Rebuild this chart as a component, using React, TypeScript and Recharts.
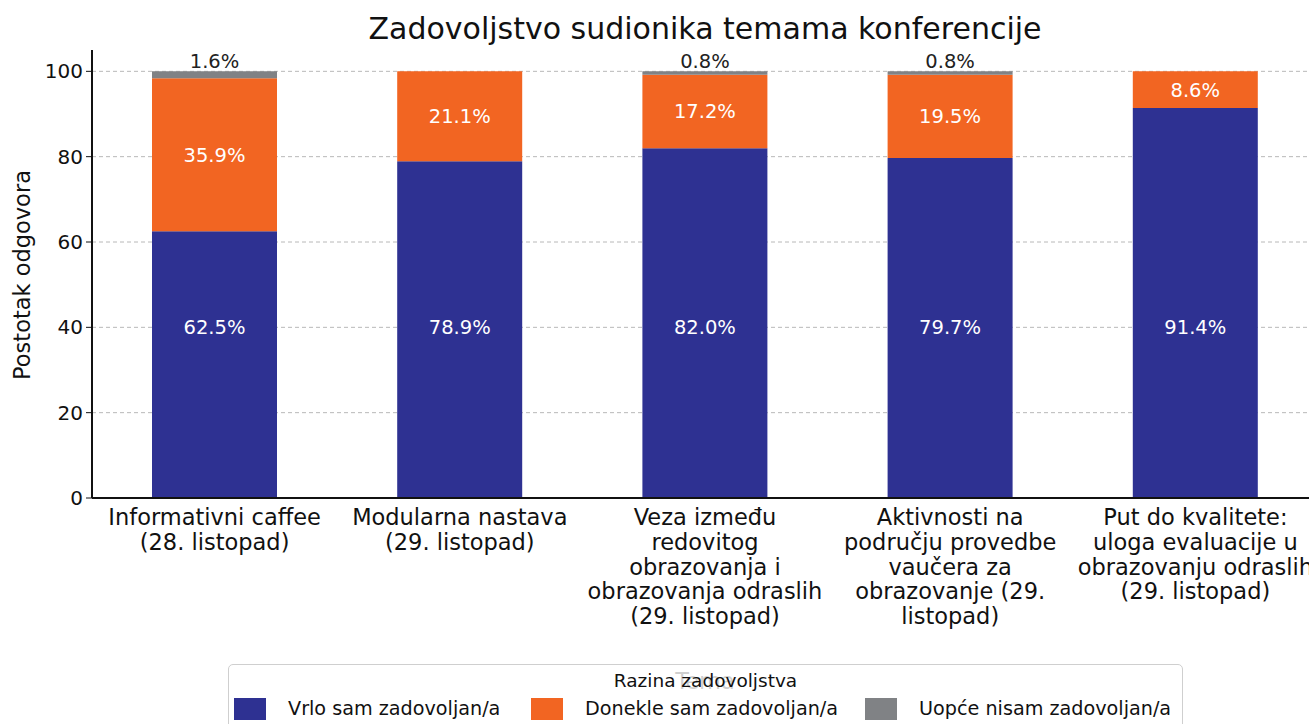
import { BarChart, Bar, XAxis, YAxis, CartesianGrid, LabelList } from "recharts";

const topics = [
  "Informativni caffee\n(28. listopad)",
  "Modularna nastava\n(29. listopad)",
  "Veza između\nredovitog\nobrazovanja i\nobrazovanja odraslih\n(29. listopad)",
  "Aktivnosti na\npodručju provedbe\nvaučera za\nobrazovanje (29.\nlistopad)",
  "Put do kvalitete:\nuloga evaluacije u\nobrazovanju odraslih\n(29. listopad)",
];
const vrlo = [62.5, 78.9, 82.0, 79.7, 91.4];
const donekle = [35.9, 21.1, 17.2, 19.5, 8.6];
const uopce = [1.6, 0, 0.8, 0.8, 0];
const yTicks = [0, 20, 40, 60, 80, 100];

const series = [
  { key: "vrlo", name: "Vrlo sam zadovoljan/a", color: "#2e3192", left: 6 },
  { key: "donekle", name: "Donekle sam zadovoljan/a", color: "#f26522", left: 303 },
  { key: "uopce", name: "Uopće nisam zadovoljan/a", color: "#808285", left: 637 },
];

const data = topics.map((t, i) => ({
  topic: t,
  vrlo: vrlo[i],
  donekle: donekle[i],
  uopce: uopce[i],
}));

const FONT = "'DejaVu Sans', sans-serif";

const TopicTick = (props: any) => {
  const { x, y, payload } = props;
  const lines = String(payload.value).split("\n");
  return (
    <text x={x} y={y + 25} textAnchor="middle" fontSize={22.5} fill="#111" fontFamily={FONT}>
      {lines.map((l, i) => (
        <tspan key={i} x={x} dy={i === 0 ? 0 : 24.75}>
          {l}
        </tspan>
      ))}
    </text>
  );
};

// blue labels sit at the 40 level, like the original
const blueLabel = (props: any) => {
  const { x, y, width, height, value } = props;
  if (!value) return null;
  const bottom = y + height;
  const yy = bottom - (40 * height) / value;
  return (
    <text x={x + width / 2} y={yy} dy="0.36em" textAnchor="middle" fill="#fff" fontSize={19.5} fontFamily={FONT}>
      {value.toFixed(1)}%
    </text>
  );
};

const midLabel = (props: any) => {
  const { x, y, width, height, value } = props;
  if (!value) return null;
  return (
    <text x={x + width / 2} y={y + height / 2} dy="0.36em" textAnchor="middle" fill="#fff" fontSize={19.5} fontFamily={FONT}>
      {value.toFixed(1)}%
    </text>
  );
};

const topLabel = (props: any) => {
  const { x, y, width, value } = props;
  if (!value) return null;
  return (
    <text x={x + width / 2} y={y - 3} textAnchor="middle" fill="#222" fontSize={19.5} fontFamily={FONT}>
      {value.toFixed(1)}%
    </text>
  );
};

export default function App() {
  return (
    <div style={{ position: "absolute", left: 0, top: 0, width: 1309, height: 724, overflow: "hidden", background: "#fff" }}>
      <BarChart
        width={1335}
        height={760}
        data={data}
        margin={{ top: 50, right: 17, bottom: 232, left: 0 }}
        barSize={125}
        style={{ fontFamily: FONT }}
      >
        <CartesianGrid vertical={false} horizontalValues={[20, 40, 60, 80, 100]} stroke="#b8b8b8" strokeDasharray="4 3" />
        <XAxis
          dataKey="topic"
          interval={0}
          height={30}
          tickLine={false}
          tickSize={0}
          tick={<TopicTick />}
          axisLine={{ stroke: "#111", strokeWidth: 2 }}
        />
        <YAxis
          width={92}
          domain={[0, 105]}
          ticks={yTicks}
          tickSize={6}
          tickMargin={3}
          tick={{ fontSize: 20, fill: "#111", fontFamily: FONT }}
          tickLine={{ stroke: "#111" }}
          axisLine={{ stroke: "#111", strokeWidth: 2 }}
        />
        <Bar dataKey="vrlo" stackId="a" fill={series[0].color} isAnimationActive={false}>
          <LabelList dataKey="vrlo" content={blueLabel} />
        </Bar>
        <Bar dataKey="donekle" stackId="a" fill={series[1].color} isAnimationActive={false}>
          <LabelList dataKey="donekle" content={midLabel} />
        </Bar>
        <Bar dataKey="uopce" stackId="a" fill={series[2].color} isAnimationActive={false}>
          <LabelList dataKey="uopce" content={topLabel} />
        </Bar>
        <text x={705} y={39} textAnchor="middle" fontSize={30} fill="#111" fontFamily={FONT}>
          Zadovoljstvo sudionika temama konferencije
        </text>
        <text
          x={30}
          y={275}
          transform="rotate(-90 30 275)"
          textAnchor="middle"
          fontSize={22.5}
          fill="#111"
          fontFamily={FONT}
        >
          Postotak odgovora
        </text>
        <text x={705} y={689} textAnchor="middle" fontSize={22.5} fill="#111" fontFamily={FONT}>
          Tema
        </text>
      </BarChart>
      <div
        style={{
          position: "absolute",
          left: 228,
          top: 664,
          width: 955,
          height: 80,
          boxSizing: "border-box",
          border: "1px solid #cfcfcf",
          borderRadius: 5,
          background: "rgba(255,255,255,0.8)",
          fontFamily: FONT,
          color: "#111",
        }}
      >
        <div style={{ textAlign: "center", fontSize: 18.5, marginTop: 5, lineHeight: "22px" }}>Razina zadovoljstva</div>
        {series.map((s) => (
          <div key={s.key} style={{ position: "absolute", left: s.left - 1, top: 33, display: "flex", alignItems: "center" }}>
            <div style={{ width: 32, height: 22, background: s.color, marginRight: 22 }} />
            <span style={{ fontSize: 19.2, lineHeight: "22px", whiteSpace: "nowrap" }}>{s.name}</span>
          </div>
        ))}
      </div>
    </div>
  );
}
